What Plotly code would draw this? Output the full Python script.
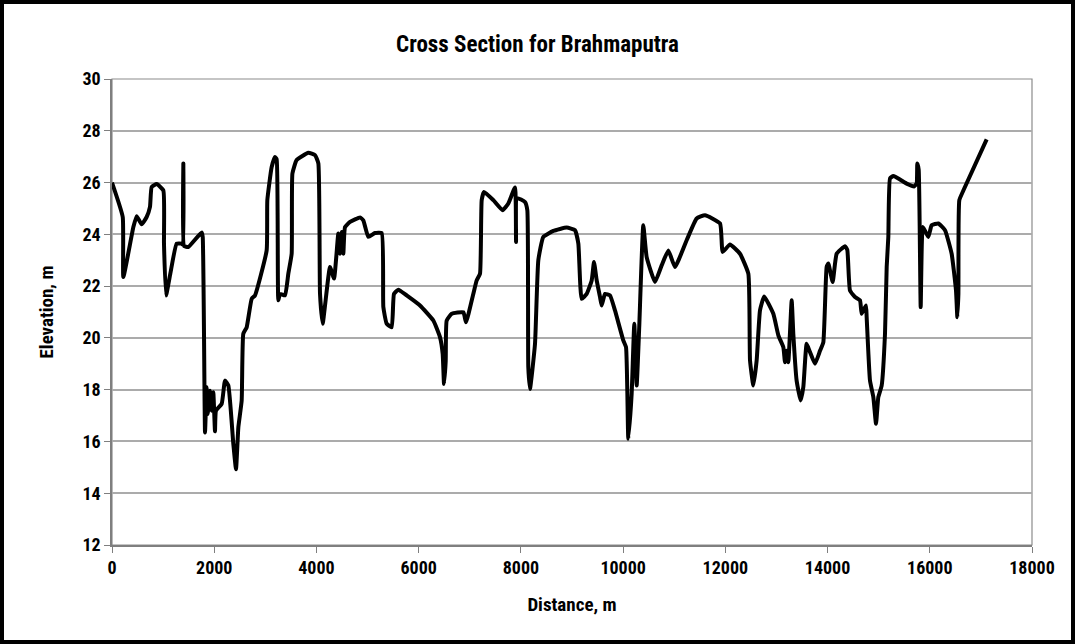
import plotly.graph_objects as go

distance_m = [0, 210, 222, 418, 483, 580, 678, 743, 776, 874, 1004, 1017, 1057, 1141, 1265, 1363, 1390, 1396, 1410, 1493,
              1754, 1775, 1820, 1852, 1872, 1917, 1950, 1982, 2015, 2034, 2146, 2211, 2276, 2374, 2426, 2472, 2537, 2569,
              2635, 2733, 2798, 3026, 3039, 3124, 3189, 3222, 3254, 3287, 3385, 3450, 3515, 3530, 3613, 3841, 3972, 4037,
              4070, 4122, 4265, 4344, 4428, 4461, 4494, 4526, 4559, 4657, 4852, 4917, 5015, 5146, 5276, 5309, 5374, 5472,
              5517, 5602, 5765, 6026, 6287, 6417, 6470, 6496, 6529, 6548, 6646, 6874, 6926, 7069, 7135, 7200, 7233, 7278,
              7461, 7643, 7754, 7885, 7905, 7925, 8080, 8126, 8145, 8178, 8276, 8341, 8439, 8635, 8896, 9058, 9124, 9189,
              9287, 9385, 9430, 9483, 9548, 9580, 9646, 9743, 9841, 10004, 10057, 10102, 10167, 10219, 10265, 10315, 10395,
              10461, 10624, 10754, 10885, 11015, 11243, 11439, 11602, 11896, 11948, 12091, 12287, 12450, 12483, 12548,
              12613, 12678, 12760, 12939, 13037, 13135, 13167, 13200, 13232, 13298, 13330, 13395, 13474, 13526, 13591,
              13657, 13754, 13852, 13917, 13982, 14015, 14100, 14178, 14341, 14386, 14439, 14537, 14635, 14667, 14752,
              14765, 14830, 14896, 14948, 14993, 15059, 15124, 15157, 15189, 15222, 15287, 15548, 15691, 15743, 15756,
              15783, 15822, 15861, 15900, 15972, 16037, 16167, 16298, 16428, 16513, 16539, 16560, 16578, 16659, 17113]

elevation_m = [26.0, 24.67, 22.35, 24.28, 24.7, 24.39, 24.67, 25.06, 25.83, 25.94, 25.7, 23.64, 21.64, 22.48, 23.64, 23.64, 23.6, 26.74, 23.55, 23.51,
               24.07, 23.9, 16.35, 18.09, 17.06, 17.96, 17.19, 17.9, 16.39, 17.19, 17.45, 18.35, 18.16, 15.9, 14.93, 16.55, 17.58, 20.16,
               20.41, 21.51, 21.64, 23.38, 25.32, 26.6, 26.99, 26.9, 21.45, 21.7, 21.64, 22.48, 23.25, 26.35, 26.87, 27.15, 27.06, 26.74,
               21.7, 20.55, 22.74, 22.29, 24.03, 23.25, 24.09, 23.25, 24.28, 24.48, 24.65, 24.54, 23.9, 24.05, 24.05, 21.19, 20.55, 20.41,
               21.7, 21.86, 21.64, 21.25, 20.67, 20.03, 19.38, 18.22, 19.1, 20.67, 20.93, 20.99, 20.6, 21.7, 22.22, 22.48, 25.32, 25.64,
               25.32, 24.93, 25.19, 25.81, 23.7, 25.4, 25.25, 24.93, 18.87, 18.03, 19.77, 23.0, 23.9, 24.13, 24.26, 24.16, 23.64, 21.51,
               21.7, 22.22, 22.93, 22.22, 21.58, 21.25, 21.7, 21.64, 21.06, 19.9, 19.64, 16.1, 17.84, 20.55, 18.16, 20.4, 24.35,
               23.12, 22.16, 22.8, 23.38, 22.74, 23.77, 24.61, 24.74, 24.42, 23.32, 23.61, 23.25, 22.48, 19.13, 18.16,
               19.13, 21.06, 21.6, 20.93, 20.1, 19.64, 19.06, 19.5, 19.06, 21.45, 20.16, 18.35, 17.58, 18.1, 19.77,
               19.45, 19.0, 19.5, 19.83, 22.74, 22.87, 22.16, 23.25, 23.54, 23.4, 21.83, 21.58, 21.45, 20.93, 21.25,
               20.8, 18.35, 17.71, 16.68, 17.71, 18.16, 20.16, 22.74, 23.9, 26.16, 26.25, 25.96, 25.85, 25.96, 26.74,
               26.5, 21.19, 24.28, 24.16, 23.9, 24.35, 24.42, 24.16, 23.25, 21.83, 20.8, 21.7, 25.32, 25.7, 27.67]

x_ticks = [0, 2000, 4000, 6000, 8000, 10000, 12000, 14000, 16000, 18000]
y_ticks = [12, 14, 16, 18, 20, 22, 24, 26, 28, 30]

FONT = "Liberation Sans Narrow, Roboto Condensed, Arial Narrow, Liberation Sans, sans-serif"

fig = go.Figure()
fig.add_trace(go.Scatter(
    x=distance_m, y=elevation_m, mode="lines",
    line=dict(color="black", width=4, shape="spline", smoothing=0.4),
    showlegend=False, hoverinfo="x+y",
))

L, R, T, B = 112, 43, 79, 99
W, H = 1075, 644
pw, ph = W - L - R, H - T - B

fig.update_layout(
    width=W, height=H,
    margin=dict(l=L, r=R, t=T, b=B),
    paper_bgcolor="white", plot_bgcolor="white",
    title=dict(text="<b>Cross Section for Brahmaputra</b>", x=0.5, xref="container", xanchor="center",
               y=1 - 44 / H, yref="container", yanchor="middle",
               font=dict(family=FONT, size=23, color="black")),
    font=dict(family=FONT, color="black"),
    xaxis=dict(range=[0, 18000], tickvals=x_ticks, ticktext=[f"<b>{v}</b>" for v in x_ticks],
               showgrid=False, zeroline=False, showline=True, linecolor="#7f7f7f", linewidth=1.5,
               ticks="outside", ticklen=6, tickcolor="#7f7f7f", tickfont=dict(size=18, family=FONT),
               title=dict(text="<b>Distance, m</b>", font=dict(size=19, family=FONT), standoff=20)),
    yaxis=dict(range=[12, 30], tickvals=y_ticks, ticktext=[f"<b>{v}</b>" for v in y_ticks],
               showgrid=True, gridcolor="#ababab", gridwidth=1.5, zeroline=False,
               showline=True, linecolor="#7f7f7f", linewidth=1.5,
               ticks="outside", ticklen=6, tickcolor="#7f7f7f", tickfont=dict(size=18, family=FONT),
               title=dict(text="<b>Elevation, m</b>", font=dict(size=19, family=FONT), standoff=24)),
)

# plot area border (right/top)
fig.add_shape(type="rect", xref="paper", yref="paper", x0=0, y0=0, x1=1, y1=1,
              line=dict(color="#8c8c8c", width=1.2), layer="below")
# outer chart frame
fig.add_shape(type="rect", xref="paper", yref="paper",
              x0=(2 - L) / pw, x1=(W - 2 - L) / pw,
              y0=(H - B - (H - 2)) / ph, y1=(H - B - 2) / ph,
              line=dict(color="black", width=4))

fig.write_html("out.html", config={"displayModeBar": False},
               post_script="document.body.style.margin='0';document.body.style.padding='0';")
